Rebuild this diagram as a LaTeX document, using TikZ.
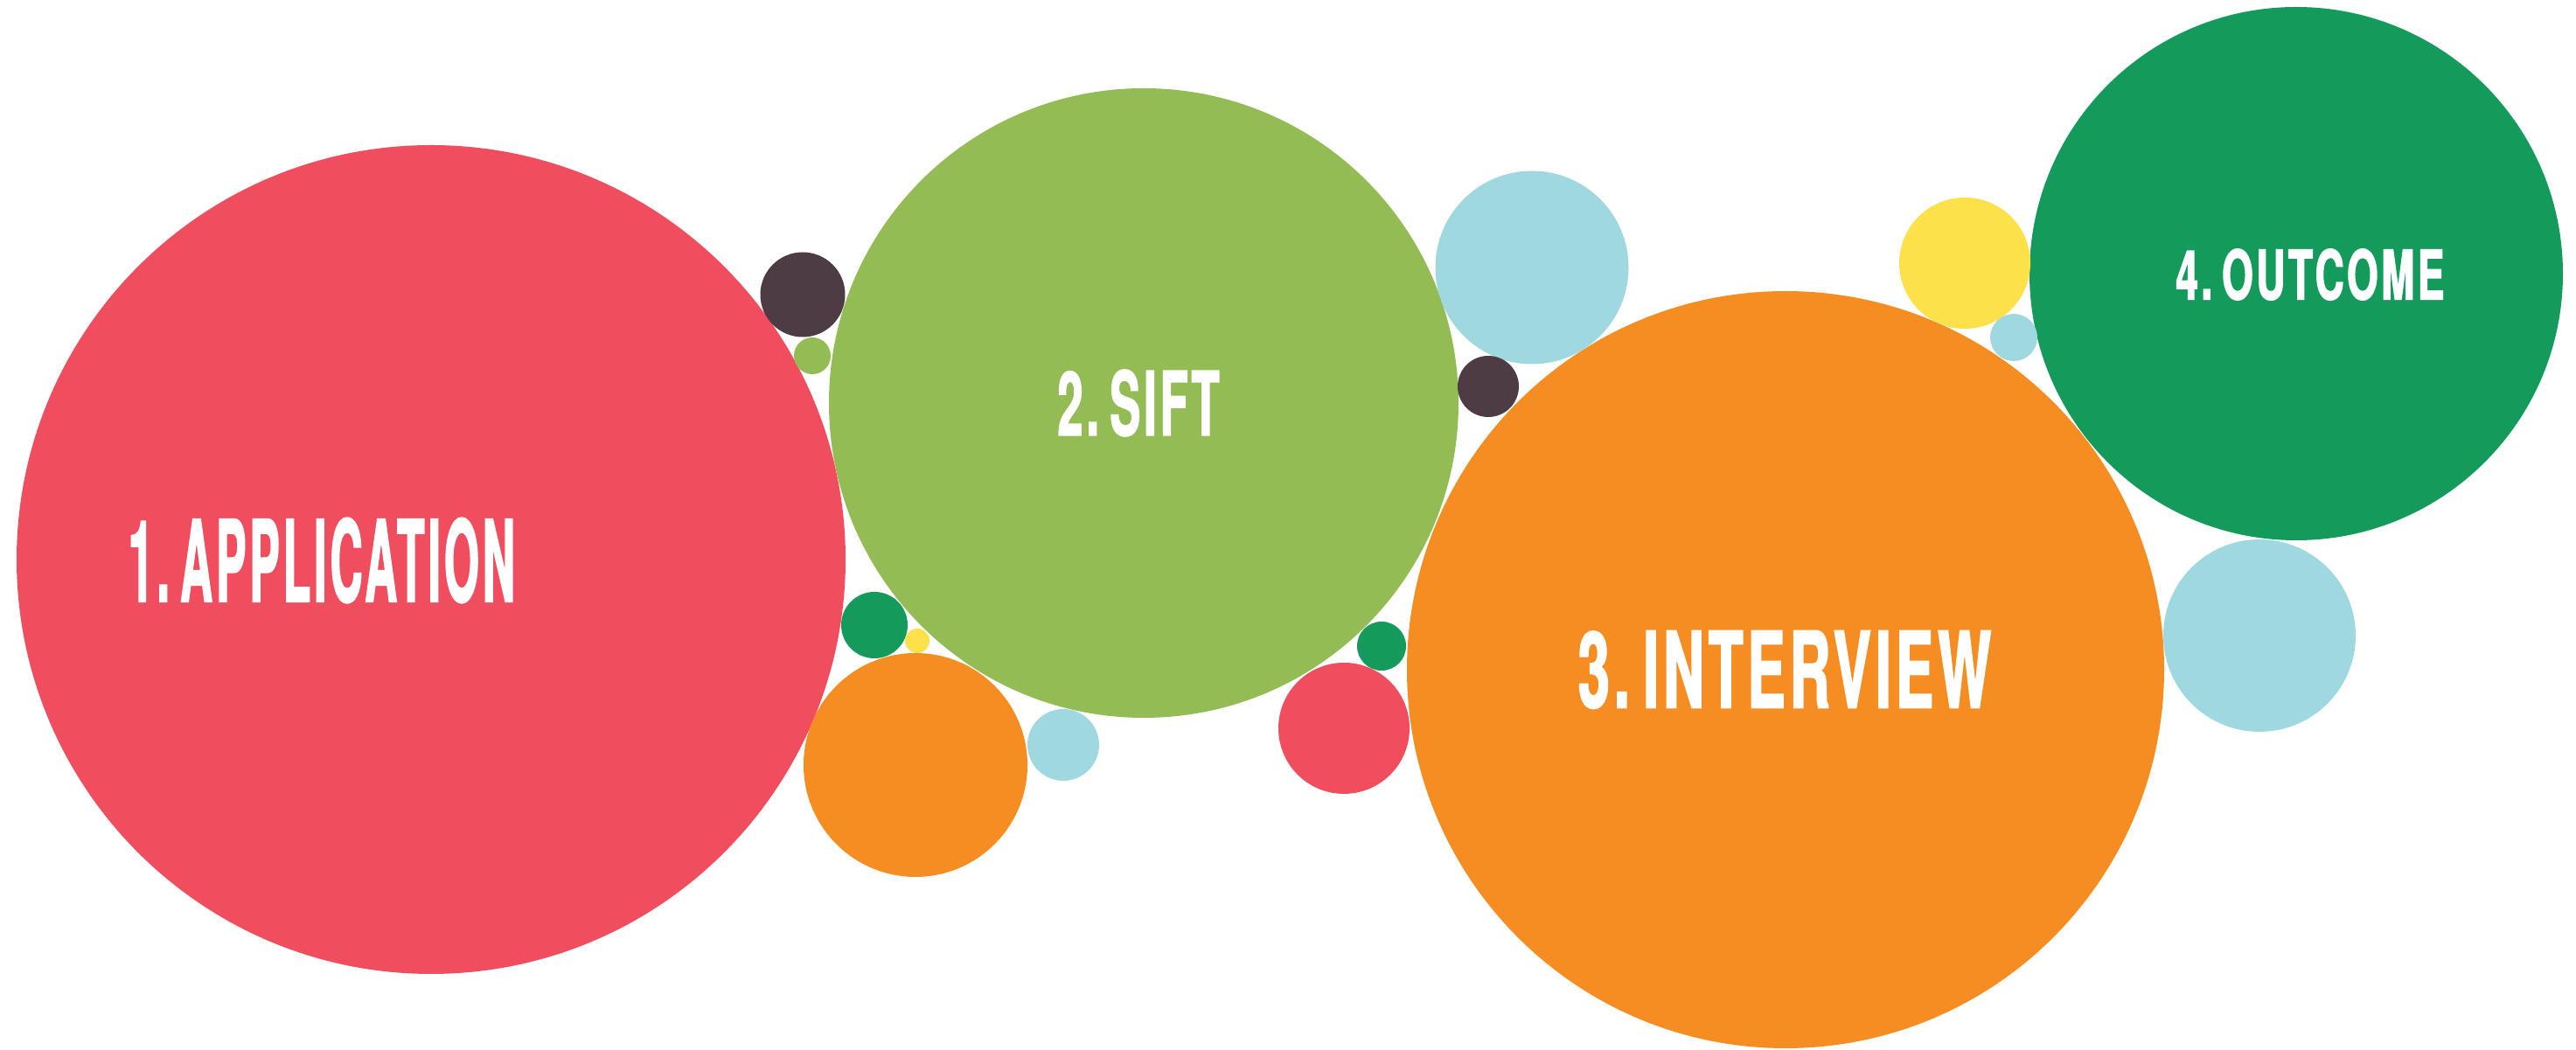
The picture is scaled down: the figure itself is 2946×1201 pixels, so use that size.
\documentclass[tikz,border=0pt]{standalone}
\usepackage{fontspec}
\newfontfamily\bubblefont{TeX Gyre Heros}[FakeStretch=0.5,FakeBold=1.5,LetterSpace=4]
\definecolor{appred}{HTML}{F04E5E}
\definecolor{siftgreen}{HTML}{93BC55}
\definecolor{vieworange}{HTML}{F68D22}
\definecolor{outgreen}{HTML}{149B5C}
\definecolor{dotblue}{HTML}{A0D8E0}
\definecolor{dotplum}{HTML}{4E3C45}
\definecolor{dotyellow}{HTML}{FDE14A}
\begin{document}
\begin{tikzpicture}[x=0.1mm,y=-0.1mm, bubble/.style={circle,fill=#1,inner sep=0pt,outer sep=0pt}, stage/.style={text=white,inner sep=0pt,font=\bubblefont\bfseries}]
\useasboundingbox (0,0) rectangle (2946,1201);
\fill[white] (0,0) rectangle (2946,1201);
% the four stages
\node[bubble=appred,minimum size=94.8mm] (app) at (493,640) {};
\node[bubble=siftgreen,minimum size=72mm] (sift) at (1308,461) {};
\node[bubble=vieworange,minimum size=86.6mm] (view) at (2042,766) {};
\node[bubble=outgreen,minimum size=61mm] (out) at (2626,313) {};
% small dots round them
\foreach \n/\c/\x/\y/\d in {topblue/dotblue/1752/306/221, plumb/dotplum/1702/442/70, pluma/dotplum/918/337/97,
	greena/siftgreen/929/407/42, yellowa/dotyellow/2247/301/150, blueb/dotblue/2303/386/54,
	bluec/dotblue/2584/727/220, darka/outgreen/1000/715/76, yellowb/dotyellow/1049/733/28,
	orangea/vieworange/1047/875/256, blued/dotblue/1216/852/82, reda/appred/1537/833/150,
	darkb/outgreen/1580/739/56}
	\node[bubble=\c,minimum size=\d*0.1mm] (\n) at (\x,\y) {};
% labels
\node[stage] (applabel) at (368,641) {\resizebox{44.2mm}{9.6mm}{1.\hspace{0.12em}APPLICATION}};
\node[stage] (siftlabel) at (1302,461) {\resizebox{18.5mm}{7.5mm}{2.\hspace{0.12em}SIFT}};
\node[stage] (viewlabel) at (2041,766) {\resizebox{47.2mm}{8.8mm}{3.\hspace{0.12em}INTERVIEW}};
\node[stage] (outlabel) at (2642,314) {\resizebox{30.7mm}{5.8mm}{4.\hspace{0.12em}OUTCOME}};
\end{tikzpicture}
\end{document}
